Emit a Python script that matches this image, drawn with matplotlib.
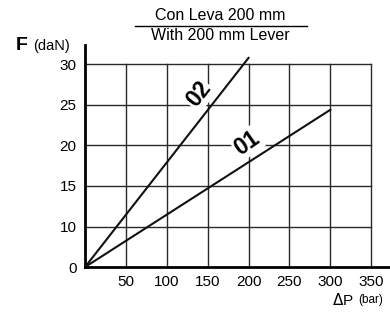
import numpy as np
import matplotlib.pyplot as plt
from matplotlib.lines import Line2D

plt.rcParams['font.family'] = ['Liberation Sans', 'DejaVu Sans']

# pressure (bar) and force values, y in chart position units (bottom line = "0")
dp_01 = [0, 300]
f_01 = [5, 24.4]
dp_02 = [0, 200]
f_02 = [5, 30.8]

x_ticks = [50, 100, 150, 200, 250, 300, 350]
y_ticks = [5, 10, 15, 20, 25, 30]
y_labels = ['0', '10', '15', '20', '25', '30']

fig = plt.figure(figsize=(3.9, 3.12), dpi=100, facecolor='w')
ax = fig.add_axes([0.218, 0.144, 0.782, 0.712])
ax.set_xlim(0, 373)
ax.set_ylim(5, 32.4)

# grid
for yy in y_ticks[1:]:
    ax.plot([0, 350], [yy, yy], color='#2a2a2a', lw=1.0, zorder=1)
for xx in x_ticks:
    ax.plot([xx, xx], [5, 30], color='#2a2a2a', lw=1.0, zorder=1)

ax.plot(dp_01, f_01, color='#111111', lw=1.5, zorder=3)
ax.plot(dp_02, f_02, color='#111111', lw=1.5, zorder=3)

box = dict(facecolor='white', edgecolor='none', pad=1.0)
ax.text(139, 26.3, '02', rotation=52, fontsize=16.5, fontweight='bold',
        ha='center', va='center', bbox=box, zorder=2)
ax.text(198, 20.3, '01', rotation=35, fontsize=16.5, fontweight='bold',
        ha='center', va='center', bbox=box, zorder=2)

for s in ['top', 'right']:
    ax.spines[s].set_visible(False)
ax.spines['left'].set_linewidth(2)
ax.spines['bottom'].set_linewidth(2)
ax.set_xticks(x_ticks)
ax.set_yticks(y_ticks)
ax.set_yticklabels(y_labels)
ax.tick_params(length=0, labelsize=11, pad=6)

fig.text(0.565, 0.95, 'Con Leva 200 mm', fontsize=11.5, ha='center', va='center')
fig.text(0.565, 0.885, 'With 200 mm Lever', fontsize=11.5, ha='center', va='center')
fig.add_artist(Line2D([0.345, 0.788], [0.918, 0.918], color='black', lw=1))

fig.text(0.04, 0.855, 'F', fontsize=14, fontweight='bold', ha='left', va='center')
fig.text(0.085, 0.853, '(daN)', fontsize=10.5, ha='left', va='center')
fig.text(0.852, 0.04, r'$\Delta$P', fontsize=11, ha='left', va='center')
fig.text(0.918, 0.04, '(bar)', fontsize=8.5, ha='left', va='center')

plt.savefig('out.png', dpi=100)
